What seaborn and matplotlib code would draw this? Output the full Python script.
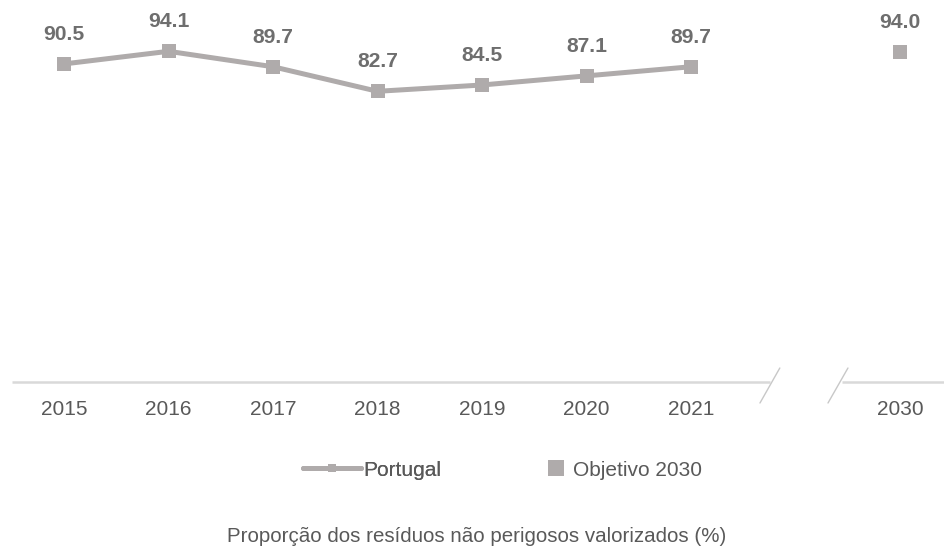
import matplotlib
matplotlib.use("Agg")
import matplotlib.pyplot as plt
from matplotlib.lines import Line2D
import seaborn as sns
import pandas as pd

# ---- data ----
years = ["2015", "2016", "2017", "2018", "2019", "2020", "2021"]
portugal = [90.5, 94.1, 89.7, 82.7, 84.5, 87.1, 89.7]
target_year = "2030"
target_value = [94.0]
slots = years + ["", target_year]   # empty slot = axis break
title = "Proporção dos resíduos não perigosos valorizados (%)"
legend_labels = ["Portugal", "Objetivo 2030"]

LINE_C = "#AFABAB"
LABEL_C = "#6E6E6E"
TEXT_C = "#595959"
AXIS_C = "#D9D9D9"

sns.set_theme(style="white")
plt.rcParams["font.family"] = ["Liberation Sans", "DejaVu Sans"]

fig = plt.figure(figsize=(9.45, 5.5), dpi=100)
W, H = 945, 550
x_left, x_right = 12, 945
y_base, y_top = 381.5, 30.6
ax = fig.add_axes([x_left / W, (H - y_base) / H, (x_right - x_left) / W, (y_base - y_top) / H])

df = pd.DataFrame({"pos": [slots.index(y) for y in years], "val": portugal})
dft = pd.DataFrame({"pos": [slots.index(target_year)], "val": target_value})

sns.lineplot(data=df, x="pos", y="val", ax=ax, color=LINE_C, lw=3.6,
             marker="s", markersize=10, markeredgewidth=0, clip_on=False)
sns.scatterplot(data=dft, x="pos", y="val", ax=ax, color=LINE_C, marker="s",
                s=95, linewidth=0, clip_on=False)

slot_px = 104.5
ax.set_xlim(-(64 - x_left) / slot_px, len(slots) - 1 + (x_right - 900) / slot_px)
ax.set_ylim(0, 100)

for p, v in zip(list(df["pos"]) + list(dft["pos"]), portugal + target_value):
    ax.annotate(f"{v:.1f}", (p, v), xytext=(0, 24), textcoords="offset pixels",
                ha="center", va="baseline", fontsize=15.2, fontweight="bold",
                color=LABEL_C, annotation_clip=False)

# axis line with break
for s in ax.spines.values():
    s.set_visible(False)
brk1, brk2 = 6.756, 7.445
xl = ax.get_xlim()
ax.plot([xl[0], brk1], [0, 0], color=AXIS_C, lw=1.8, clip_on=False, solid_capstyle="butt")
ax.plot([brk2, xl[1]], [0, 0], color=AXIS_C, lw=1.8, clip_on=False, solid_capstyle="butt")
upx = 3.509
for x0, x1 in [(6.66, 6.85), (7.311, 7.502)]:
    ax.plot([x0, x1], [-21.5 / upx, 13.5 / upx], color="#C8C8C8", lw=1.0, clip_on=False)

tick_pos = [slots.index(y) for y in years + [target_year]]
ax.set_xticks(tick_pos)
ax.set_xticklabels(years + [target_year], fontsize=15, color=TEXT_C)
ax.tick_params(axis="x", length=0, pad=13.5)
ax.set_yticks([])
ax.set_xlabel("")
ax.set_ylabel("")

# legend
h1 = Line2D([], [], color=LINE_C, lw=3.6, marker="s", markersize=6,
            markeredgewidth=0, solid_capstyle="round")
h2 = Line2D([], [], color=LINE_C, lw=0, marker="s", markersize=11, markeredgewidth=0)
leg1 = fig.legend([h1], [legend_labels[0]], loc="center left",
                  bbox_to_anchor=(293 / W, 1 - 470 / H), frameon=False,
                  fontsize=15, handlelength=2.75, handletextpad=0.12,
                  borderpad=0, labelcolor=TEXT_C)
leg2 = fig.legend([h2], [legend_labels[1]], loc="center left",
                  bbox_to_anchor=(536 / W, 1 - 470 / H), frameon=False,
                  fontsize=15, handlelength=0.9, handletextpad=0.4,
                  borderpad=0, labelcolor=TEXT_C)
fig.add_artist(leg1)

fig.text(477 / W, 1 - 541.5 / H, title, ha="center", va="baseline",
         fontsize=14.8, color=TEXT_C)

fig.savefig("out.png", dpi=100)
